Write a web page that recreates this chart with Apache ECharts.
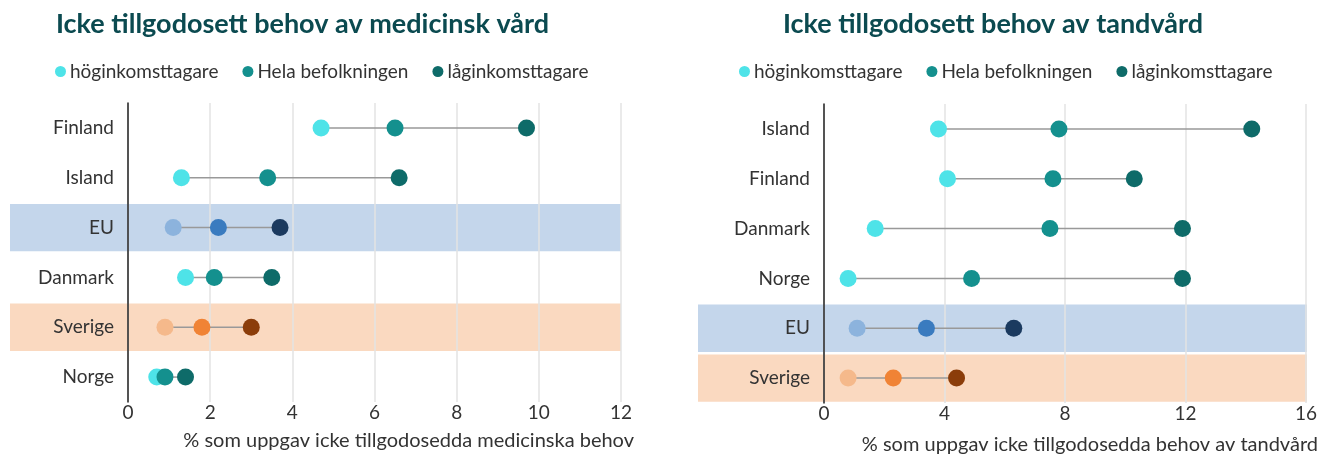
<!DOCTYPE html>
<html>
<head>
<meta charset="utf-8">
<script src="https://cdn.jsdelivr.net/npm/echarts@6/dist/echarts.min.js"></script>
<style>
  html, body { margin: 0; padding: 0; background: #fff; }
  #chart { width: 1320px; height: 456px; }
</style>
</head>
<body>
<div id="chart"></div>
<script>
// medicinsk vård
const medCats = ["Finland", "Island", "EU", "Danmark", "Sverige", "Norge"];
const medHog = [4.7, 1.3, 1.1, 1.4, 0.9, 0.7];
const medHela = [6.5, 3.4, 2.2, 2.1, 1.8, 0.9];
const medLag = [9.7, 6.6, 3.7, 3.5, 3.0, 1.4];
// tandvård
const tandCats = ["Island", "Finland", "Danmark", "Norge", "EU", "Sverige"];
const tandHog = [3.8, 4.1, 1.7, 0.8, 1.1, 0.8];
const tandHela = [7.8, 7.6, 7.5, 4.9, 3.4, 2.3];
const tandLag = [14.2, 10.3, 11.9, 11.9, 6.3, 4.4];

const seriesNames = ["höginkomsttagare", "Hela befolkningen", "låginkomsttagare"];
const FONT = "Lato";

// färger per grupp: [hög, hela, låg]
const baseColors = ["#4ee3e8", "#14908e", "#0e6b69"];
const special = {
  EU: { dots: ["#8cb3dd", "#3a7bbf", "#1b3a5f"], band: "#c4d6eb" },
  Sverige: { dots: ["#f5b98b", "#f08335", "#8b3d0a"], band: "#fad9c0" },
};

const chart = echarts.init(document.getElementById("chart"));

const makeDots = (cats, vals, k) =>
  vals.map((v, i) => {
    const s = special[cats[i]];
    return s ? { value: [v, cats[i]], itemStyle: { color: s.dots[k] } } : [v, cats[i]];
  });

const makeBands = (cats) =>
  cats.map((c) => (special[c] ? { value: 1, itemStyle: { color: special[c].band } } : null));

const buildPanel = (cats, hog, hela, lag, gi) => {
  const out = [];
  // bakgrundsband
  out.push({
    type: "bar",
    xAxisIndex: gi + 1,
    yAxisIndex: gi + 1,
    data: makeBands(cats),
    barWidth: "95%",
    silent: true,
    z: -1,
  });
  // grå förbindelselinje
  out.push({
    type: "custom",
    xAxisIndex: gi,
    yAxisIndex: gi,
    data: cats.map((c, i) => [Math.min(hog[i], lag[i]), Math.max(hog[i], lag[i]), c]),
    encode: { x: [0, 1], y: 2 },
    renderItem: (params, api) => {
      const p1 = api.coord([api.value(0), api.value(2)]);
      const p2 = api.coord([api.value(1), api.value(2)]);
      return {
        type: "line",
        shape: { x1: p1[0], y1: p1[1], x2: p2[0], y2: p2[1] },
        style: { stroke: "#999", lineWidth: 1.5 },
      };
    },
    silent: true,
  });
  [hog, hela, lag].forEach((vals, k) => {
    out.push({
      name: seriesNames[k],
      type: "scatter",
      xAxisIndex: gi,
      yAxisIndex: gi,
      symbolSize: 17,
      itemStyle: { color: baseColors[k], opacity: 1 },
      data: makeDots(cats, vals, k),
    });
  });
  return out;
};

const valueAxis = (gi, max, interval) => ({
  type: "value",
  gridIndex: gi,
  min: 0,
  max: max,
  interval: interval,
  axisLine: { show: false },
  axisTick: { show: false },
  axisLabel: { color: "#333", fontSize: 19, fontFamily: FONT, margin: 1 },
  splitLine: { show: true, lineStyle: { color: "#e3e3e3", width: 1.5 } },
});
const hiddenValueAxis = (gi) => ({
  type: "value", gridIndex: gi, min: 0, max: 1, show: false,
});
const catAxis = (gi, cats) => ({
  type: "category",
  gridIndex: gi,
  data: cats,
  inverse: true,
  axisLine: { show: true, lineStyle: { color: "#222", width: 1.5 } },
  axisTick: { show: false },
  axisLabel: { color: "#333", fontSize: 19, fontFamily: FONT, margin: 14 },
  splitLine: { show: false },
});
const hiddenCatAxis = (gi, cats) => ({
  type: "category", gridIndex: gi, data: cats, inverse: true, show: false,
});

const legendBase = {
  data: seriesNames,
  top: 57,
  icon: "circle",
  itemWidth: 11,
  itemHeight: 11,
  itemGap: 24,
  textStyle: { color: "#333", fontSize: 19, fontFamily: FONT, padding: [0, 0, 0, -1] },
};

const option = {
  animation: false,
  textStyle: { fontFamily: FONT },
  title: [
    {
      text: "Icke tillgodosett behov av medicinsk vård",
      left: 51,
      top: 6,
      textStyle: { color: "#0b4a50", fontSize: 27, fontWeight: "bold", fontFamily: FONT },
    },
    {
      text: "Icke tillgodosett behov av tandvård",
      left: 988,
      textAlign: "center",
      top: 6,
      textStyle: { color: "#0b4a50", fontSize: 27, fontWeight: "bold", fontFamily: FONT },
    },
  ],
  legend: [
    Object.assign({}, legendBase, { left: 50 }),
    Object.assign({}, legendBase, { left: 734 }),
  ],
  grid: [
    { left: 128, top: 103, width: 493, height: 299 },
    { left: 10, top: 103, width: 611, height: 299 },
    { left: 824, top: 104, width: 483, height: 299 },
    { left: 698, top: 104, width: 609, height: 299 },
  ],
  xAxis: [
    valueAxis(0, 12, 2),
    hiddenValueAxis(1),
    valueAxis(2, 16, 4),
    hiddenValueAxis(3),
  ],
  yAxis: [
    catAxis(0, medCats),
    hiddenCatAxis(1, medCats),
    catAxis(2, tandCats),
    hiddenCatAxis(3, tandCats),
  ],
  graphic: [
    {
      type: "text",
      right: 1320 - 634,
      top: 431,
      style: { text: "% som uppgav icke tillgodosedda medicinska behov", fill: "#333", fontSize: 20, fontFamily: FONT },
    },
    {
      type: "text",
      right: 2,
      top: 435,
      style: { text: "% som uppgav icke tillgodosedda behov av tandvård", fill: "#333", fontSize: 20, fontFamily: FONT },
    },
  ],
  series: [
    ...buildPanel(medCats, medHog, medHela, medLag, 0),
    ...buildPanel(tandCats, tandHog, tandHela, tandLag, 2),
  ],
};

chart.setOption(option);
</script>
</body>
</html>
